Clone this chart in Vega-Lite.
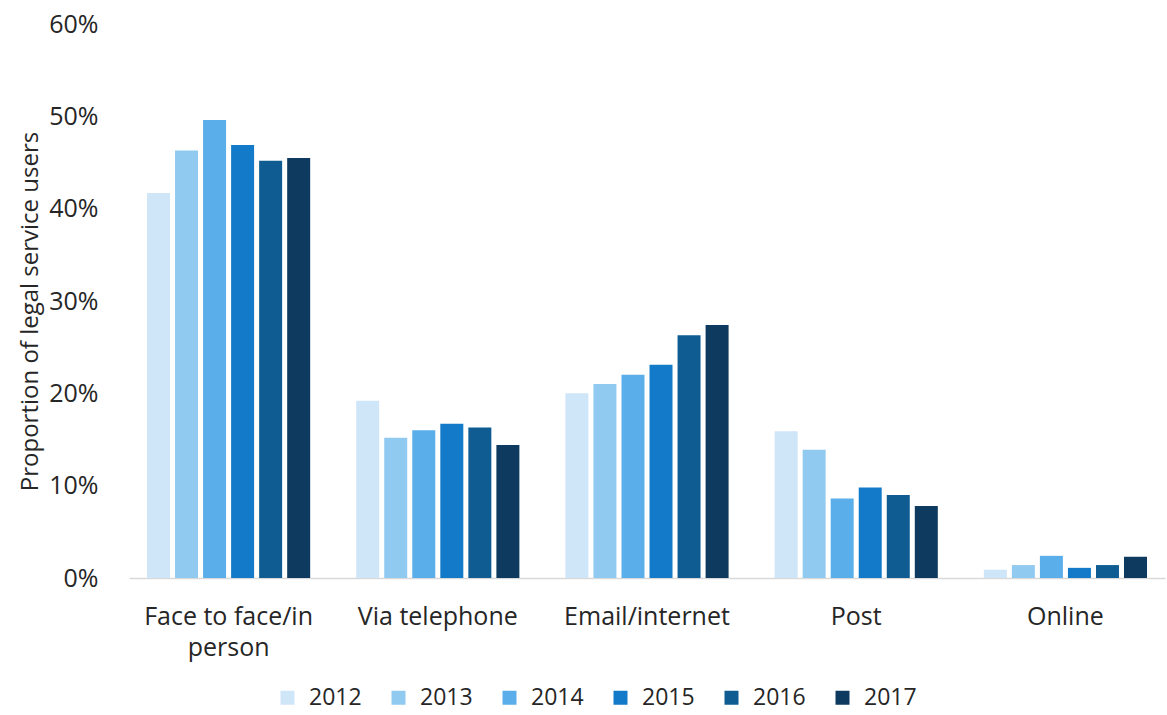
{
  "$schema": "https://vega.github.io/schema/vega-lite/v6.json",
  "width": 1036,
  "height": 554,
  "autosize": {"type": "none"},
  "padding": {"left": 129, "top": 24, "right": 2, "bottom": 137},
  "background": "white",
  "config": {
    "view": {"stroke": null},
    "font": "Open Sans",
    "axis": {"labelFont": "Open Sans", "titleFont": "Open Sans", "labelColor": "#262626", "titleColor": "#262626"}
  },
  "data": {
    "values": [
      {"channel": "Face to face/in person", "year": "2012", "value": 0.417},
      {"channel": "Face to face/in person", "year": "2013", "value": 0.463},
      {"channel": "Face to face/in person", "year": "2014", "value": 0.496},
      {"channel": "Face to face/in person", "year": "2015", "value": 0.469},
      {"channel": "Face to face/in person", "year": "2016", "value": 0.452},
      {"channel": "Face to face/in person", "year": "2017", "value": 0.455},
      {"channel": "Via telephone", "year": "2012", "value": 0.192},
      {"channel": "Via telephone", "year": "2013", "value": 0.152},
      {"channel": "Via telephone", "year": "2014", "value": 0.160},
      {"channel": "Via telephone", "year": "2015", "value": 0.167},
      {"channel": "Via telephone", "year": "2016", "value": 0.163},
      {"channel": "Via telephone", "year": "2017", "value": 0.144},
      {"channel": "Email/internet", "year": "2012", "value": 0.200},
      {"channel": "Email/internet", "year": "2013", "value": 0.210},
      {"channel": "Email/internet", "year": "2014", "value": 0.220},
      {"channel": "Email/internet", "year": "2015", "value": 0.231},
      {"channel": "Email/internet", "year": "2016", "value": 0.263},
      {"channel": "Email/internet", "year": "2017", "value": 0.274},
      {"channel": "Post", "year": "2012", "value": 0.159},
      {"channel": "Post", "year": "2013", "value": 0.139},
      {"channel": "Post", "year": "2014", "value": 0.086},
      {"channel": "Post", "year": "2015", "value": 0.098},
      {"channel": "Post", "year": "2016", "value": 0.090},
      {"channel": "Post", "year": "2017", "value": 0.078},
      {"channel": "Online", "year": "2012", "value": 0.009},
      {"channel": "Online", "year": "2013", "value": 0.014},
      {"channel": "Online", "year": "2014", "value": 0.024},
      {"channel": "Online", "year": "2015", "value": 0.011},
      {"channel": "Online", "year": "2016", "value": 0.014},
      {"channel": "Online", "year": "2017", "value": 0.023}
    ]
  },
  "mark": {"type": "bar"},
  "encoding": {
    "x": {
      "field": "channel",
      "type": "nominal",
      "sort": null,
      "scale": {"paddingInner": 0.22, "paddingOuter": 0.086},
      "axis": {
        "title": null,
        "labelAngle": 0,
        "labelFontSize": 25,
        "labelPadding": 26,
        "labelLineHeight": 31,
        "labelExpr": "datum.value == 'Face to face/in person' ? ['Face to face/in', 'person'] : datum.value",
        "ticks": false,
        "domainColor": "#d9d9d9",
        "domainWidth": 1.5,
        "labelLimit": 300
      }
    },
    "xOffset": {"field": "year", "type": "nominal", "scale": {"paddingInner": 0.18}},
    "y": {
      "field": "value",
      "type": "quantitative",
      "scale": {"domain": [0, 0.6]},
      "axis": {
        "title": "Proportion of legal service users",
        "titleFontSize": 24,
        "titleFontWeight": "normal",
        "titlePadding": 6,
        "titleY": 287,
        "format": ".0%",
        "values": [0, 0.1, 0.2, 0.3, 0.4, 0.5, 0.6],
        "labelFontSize": 25,
        "labelPadding": 31,
        "ticks": false,
        "domain": false,
        "grid": false
      }
    },
    "color": {
      "field": "year",
      "type": "nominal",
      "scale": {"domain": ["2012", "2013", "2014", "2015", "2016", "2017"], "range": ["#cfe5f8", "#91caf0", "#5aaeea", "#127ac8", "#0e5c92", "#0d3a5e"]},
      "legend": {
        "title": null,
        "orient": "none",
        "direction": "horizontal",
        "legendX": 147,
        "legendY": 662,
        "symbolType": "square",
        "symbolSize": 196,
        "symbolStrokeWidth": 0,
        "labelFontSize": 23,
        "labelColor": "#262626",
        "labelFont": "Open Sans",
        "columnPadding": 25,
        "labelOffset": 10
      }
    }
  }
}
